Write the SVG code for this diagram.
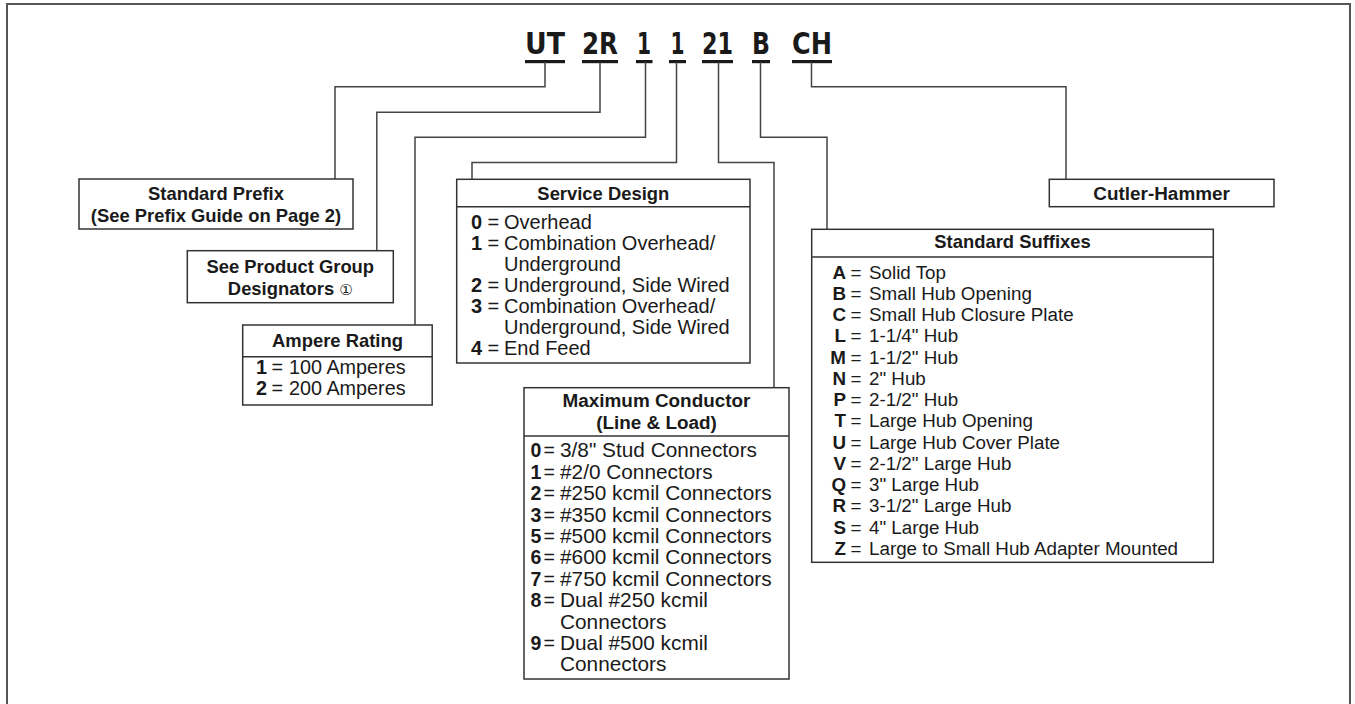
<svg xmlns="http://www.w3.org/2000/svg" width="1355" height="704" viewBox="0 0 1355 704">
<style>
.frame{fill:none;stroke:#555;stroke-width:2}
.box{fill:#fff;stroke:#333;stroke-width:1.5}
.sep{stroke:#333;stroke-width:1.5}
.ln{fill:none;stroke:#444;stroke-width:1.5}
.ul{fill:#1a1a1a}
.code{font-family:"Liberation Sans Narrow","DejaVu Sans Condensed","Liberation Sans",sans-serif;font-weight:bold;font-size:30px;fill:#1a1a1a;text-anchor:middle}
.t{font-family:"Liberation Sans",Arial,sans-serif;font-weight:bold;font-size:18.4px;fill:#1a1a1a;text-anchor:middle}
.t2{font-size:18.9px}
.k{font-family:"Liberation Sans",Arial,sans-serif;font-weight:bold;fill:#1a1a1a}
.v{font-family:"Liberation Sans",Arial,sans-serif;fill:#1a1a1a}
.amp{font-size:19.8px}
.svc{font-size:20px}
.mx{font-size:20.8px}
.mk{font-size:19.5px}
.sfx{font-size:18.8px}
.r{text-anchor:end}
.c{font-family:"DejaVu Sans","Noto Sans",sans-serif;font-weight:normal;font-size:15px}
</style>
<path class="frame" d="M7,704 V4 H1350 V704"/>
<g id="code">
<text class="code" x="545" y="53.5" textLength="40" lengthAdjust="spacingAndGlyphs">UT</text>
<text class="code" x="600" y="53.5" textLength="36" lengthAdjust="spacingAndGlyphs">2R</text>
<text class="code" x="644" y="53.5" textLength="14" lengthAdjust="spacingAndGlyphs">1</text>
<text class="code" x="677.5" y="53.5" textLength="14" lengthAdjust="spacingAndGlyphs">1</text>
<text class="code" x="717.5" y="53.5" textLength="31" lengthAdjust="spacingAndGlyphs">21</text>
<text class="code" x="761" y="53.5" textLength="18" lengthAdjust="spacingAndGlyphs">B</text>
<text class="code" x="812" y="53.5" textLength="40" lengthAdjust="spacingAndGlyphs">CH</text>
<rect class="ul" x="525" y="60" width="40" height="3.2"/>
<rect class="ul" x="582" y="60" width="36" height="3.2"/>
<rect class="ul" x="636" y="60" width="16.5" height="3.2"/>
<rect class="ul" x="669" y="60" width="17" height="3.2"/>
<rect class="ul" x="702" y="60" width="31" height="3.2"/>
<rect class="ul" x="752" y="60" width="18" height="3.2"/>
<rect class="ul" x="792" y="60" width="40" height="3.2"/>
</g>
<g id="connectors">
<path class="ln" d="M545,62 V86.7 H335 V179"/>
<path class="ln" d="M600,62 V112.3 H376.8 V250.7"/>
<path class="ln" d="M645.5,62 V137.2 H415 V325"/>
<path class="ln" d="M676.5,62 V162.5 H472 V179"/>
<path class="ln" d="M718.5,62 V162.5 H774 V387.7"/>
<path class="ln" d="M760.5,62 V137.2 H827 V229.3"/>
<path class="ln" d="M811.5,62 V86.7 H1066 V179.3"/>
</g>
<g id="standard-prefix">
<rect class="box" x="79" y="179" width="274" height="50"/>
<text class="t" x="216" y="199.9">Standard Prefix</text>
<text class="t" x="216" y="221.6">(See Prefix Guide on Page 2)</text>
</g>
<g id="product-group">
<rect class="box" x="187.3" y="250.7" width="206" height="52"/>
<text class="t" x="290.3" y="272.6">See Product Group</text>
<text class="t" x="290.3" y="294.6">Designators <tspan class="c">①</tspan></text>
</g>
<g id="ampere-rating">
<rect class="box" x="242.7" y="325" width="189.5" height="80"/>
<line class="sep" x1="242.7" y1="356.7" x2="432.2" y2="356.7"/>
<text class="t" x="337.5" y="346.6">Ampere Rating</text>
<text class="k amp" x="256" y="374.1">1</text><text class="v amp" x="271.5" y="374.1">=</text><text class="v amp" x="289" y="374.1">100 Amperes</text>
<text class="k amp" x="256" y="395.1">2</text><text class="v amp" x="271.5" y="395.1">=</text><text class="v amp" x="289" y="395.1">200 Amperes</text>
</g>
<g id="service-design">
<rect class="box" x="456.7" y="179.3" width="293.3" height="183.7"/>
<line class="sep" x1="456.7" y1="206.7" x2="750" y2="206.7"/>
<text class="t" x="603.3" y="199.6">Service Design</text>
<text class="k svc" x="471" y="228.8">0</text><text class="v svc" x="487.5" y="228.8">=</text><text class="v svc" x="504" y="228.8">Overhead</text>
<text class="k svc" x="471" y="249.9">1</text><text class="v svc" x="487.5" y="249.9">=</text><text class="v svc" x="504" y="249.9">Combination Overhead/</text>
<text class="v svc" x="504" y="271">Underground</text>
<text class="k svc" x="471" y="292.1">2</text><text class="v svc" x="487.5" y="292.1">=</text><text class="v svc" x="504" y="292.1">Underground, Side Wired</text>
<text class="k svc" x="471" y="313.2">3</text><text class="v svc" x="487.5" y="313.2">=</text><text class="v svc" x="504" y="313.2">Combination Overhead/</text>
<text class="v svc" x="504" y="334.3">Underground, Side Wired</text>
<text class="k svc" x="471" y="355.4">4</text><text class="v svc" x="487.5" y="355.4">=</text><text class="v svc" x="504" y="355.4">End Feed</text>
</g>
<g id="maximum-conductor">
<rect class="box" x="524" y="387.7" width="265" height="291.3"/>
<line class="sep" x1="524" y1="436" x2="789" y2="436"/>
<text class="t t2" x="656.5" y="406.8">Maximum Conductor</text>
<text class="t t2" x="656.5" y="428.5">(Line &amp; Load)</text>
<text class="k mk" x="530.5" y="457.4">0</text><text class="v mk" x="543.5" y="457.4">=</text><text class="v mx" x="560" y="457.4">3/8" Stud Connectors</text>
<text class="k mk" x="530.5" y="478.8">1</text><text class="v mk" x="543.5" y="478.8">=</text><text class="v mx" x="560" y="478.8">#2/0 Connectors</text>
<text class="k mk" x="530.5" y="500.2">2</text><text class="v mk" x="543.5" y="500.2">=</text><text class="v mx" x="560" y="500.2">#250 kcmil Connectors</text>
<text class="k mk" x="530.5" y="521.6">3</text><text class="v mk" x="543.5" y="521.6">=</text><text class="v mx" x="560" y="521.6">#350 kcmil Connectors</text>
<text class="k mk" x="530.5" y="543">5</text><text class="v mk" x="543.5" y="543">=</text><text class="v mx" x="560" y="543">#500 kcmil Connectors</text>
<text class="k mk" x="530.5" y="564.4">6</text><text class="v mk" x="543.5" y="564.4">=</text><text class="v mx" x="560" y="564.4">#600 kcmil Connectors</text>
<text class="k mk" x="530.5" y="585.8">7</text><text class="v mk" x="543.5" y="585.8">=</text><text class="v mx" x="560" y="585.8">#750 kcmil Connectors</text>
<text class="k mk" x="530.5" y="607.2">8</text><text class="v mk" x="543.5" y="607.2">=</text><text class="v mx" x="560" y="607.2">Dual #250 kcmil</text>
<text class="v mx" x="560" y="628.6">Connectors</text>
<text class="k mk" x="530.5" y="650">9</text><text class="v mk" x="543.5" y="650">=</text><text class="v mx" x="560" y="650">Dual #500 kcmil</text>
<text class="v mx" x="560" y="671.4">Connectors</text>
</g>
<g id="standard-suffixes">
<rect class="box" x="811.7" y="229.3" width="401.6" height="333"/>
<line class="sep" x1="811.7" y1="257" x2="1213.3" y2="257"/>
<text class="t" x="1012.5" y="248.3">Standard Suffixes</text>
<text class="k sfx r" x="846" y="278.5">A</text><text class="v sfx" x="850.5" y="278.5">=</text><text class="v sfx" x="869" y="278.5">Solid Top</text>
<text class="k sfx r" x="846" y="299.75">B</text><text class="v sfx" x="850.5" y="299.75">=</text><text class="v sfx" x="869" y="299.75">Small Hub Opening</text>
<text class="k sfx r" x="846" y="321">C</text><text class="v sfx" x="850.5" y="321">=</text><text class="v sfx" x="869" y="321">Small Hub Closure Plate</text>
<text class="k sfx r" x="846" y="342.25">L</text><text class="v sfx" x="850.5" y="342.25">=</text><text class="v sfx" x="869" y="342.25">1-1/4" Hub</text>
<text class="k sfx r" x="846" y="363.5">M</text><text class="v sfx" x="850.5" y="363.5">=</text><text class="v sfx" x="869" y="363.5">1-1/2" Hub</text>
<text class="k sfx r" x="846" y="384.75">N</text><text class="v sfx" x="850.5" y="384.75">=</text><text class="v sfx" x="869" y="384.75">2" Hub</text>
<text class="k sfx r" x="846" y="406">P</text><text class="v sfx" x="850.5" y="406">=</text><text class="v sfx" x="869" y="406">2-1/2" Hub</text>
<text class="k sfx r" x="846" y="427.25">T</text><text class="v sfx" x="850.5" y="427.25">=</text><text class="v sfx" x="869" y="427.25">Large Hub Opening</text>
<text class="k sfx r" x="846" y="448.5">U</text><text class="v sfx" x="850.5" y="448.5">=</text><text class="v sfx" x="869" y="448.5">Large Hub Cover Plate</text>
<text class="k sfx r" x="846" y="469.75">V</text><text class="v sfx" x="850.5" y="469.75">=</text><text class="v sfx" x="869" y="469.75">2-1/2" Large Hub</text>
<text class="k sfx r" x="846" y="491">Q</text><text class="v sfx" x="850.5" y="491">=</text><text class="v sfx" x="869" y="491">3" Large Hub</text>
<text class="k sfx r" x="846" y="512.25">R</text><text class="v sfx" x="850.5" y="512.25">=</text><text class="v sfx" x="869" y="512.25">3-1/2" Large Hub</text>
<text class="k sfx r" x="846" y="533.5">S</text><text class="v sfx" x="850.5" y="533.5">=</text><text class="v sfx" x="869" y="533.5">4" Large Hub</text>
<text class="k sfx r" x="846" y="554.75">Z</text><text class="v sfx" x="850.5" y="554.75">=</text><text class="v sfx" x="869" y="554.75">Large to Small Hub Adapter Mounted</text>
</g>
<g id="cutler-hammer">
<rect class="box" x="1049.3" y="179.3" width="224.7" height="27.4"/>
<text class="t t2" x="1161.6" y="199.8">Cutler-Hammer</text>
</g>
</svg>
